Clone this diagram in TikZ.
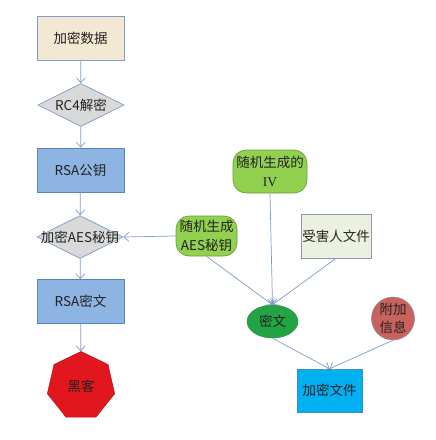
\documentclass[tikz,border=0pt]{standalone}
\usepackage{fontspec}
\setmainfont{Noto Sans CJK SC}
\newfontfamily\ivfont{Liberation Serif}
\usetikzlibrary{shapes.geometric,arrows.meta}
\definecolor{lineblue}{HTML}{7F9DC6}
\definecolor{beige}{HTML}{F3E8D4}
\definecolor{rsablue}{HTML}{8DB4E2}
\definecolor{rsaedge}{HTML}{5A86BC}
\definecolor{dgray}{HTML}{D9D9D9}
\definecolor{lgreen}{HTML}{92D050}
\definecolor{lgreenedge}{HTML}{6B9E3A}
\definecolor{pale}{HTML}{EBF1DE}
\definecolor{paleedge}{HTML}{8A9BAA}
\definecolor{cgreen}{HTML}{22A444}
\definecolor{cgreenedge}{HTML}{3C8C50}
\definecolor{rosered}{HTML}{C9625C}
\definecolor{roseedge}{HTML}{8E8FA5}
\definecolor{cyanbox}{HTML}{00B0F0}
\definecolor{cyanedge}{HTML}{3A8CC4}
\definecolor{hackred}{HTML}{E2161E}
\definecolor{txt}{HTML}{222222}
\begin{document}
\begin{tikzpicture}[x=1pt,y=-1pt,
  every node/.style={font=\fontsize{13.5}{19}\selectfont, text=txt, inner sep=0pt},
  conn/.style={draw=lineblue, line width=0.7pt, -{Straight Barb[length=5pt,width=9pt]}},
  plain/.style={draw=lineblue, line width=0.7pt},
  rbox/.style={rectangle, draw=rsaedge, line width=0.7pt, minimum width=87pt, minimum height=44pt},
  dia/.style={diamond, draw=lineblue, fill=dgray, line width=0.7pt, minimum width=86pt, minimum height=43pt},
  gbox/.style={rectangle, rounded corners=13pt, draw=lgreenedge, fill=lgreen, line width=0.7pt, align=center}
]
\useasboundingbox (0,0) rectangle (436,440);
\fill[white] (0,0) rectangle (436,440);

\node[rbox, fill=beige, draw=lineblue] (data) at (80.5,38.5) {加密数据};
\node[dia] (rc4) at (81,105) {};
\node at (rc4) {RC4解密};
\node[rbox, fill=rsablue] (pub) at (80.5,170) {RSA公钥};
\node[dia] (aes) at (80,237) {};
\node at (aes) {加密AES秘钥};
\node[rbox, fill=rsablue] (rsac) at (80.5,301.5) {RSA密文};
\node[regular polygon, regular polygon sides=7, minimum size=69pt, fill=hackred, draw=hackred!80!black, line width=0.5pt] (hack) at (81,386) {黑客};

\node[gbox, minimum width=61pt, minimum height=40pt] (aesgen) at (206.5,236) {随机生成\\AES秘钥};
\node[gbox, minimum width=74pt, minimum height=43pt] (iv) at (270,171.5) {随机生成的\\{\ivfont IV}};
\node[rectangle, draw=paleedge, fill=pale, line width=0.7pt, minimum width=70pt, minimum height=44pt] (victim) at (336,236) {受害人文件};
\node[ellipse, draw=cgreenedge, fill=cgreen, line width=0.5pt, minimum width=51pt, minimum height=33pt] (cipher) at (272.5,321.5) {密文};
\node[circle, draw=roseedge, fill=rosered, line width=0.6pt, minimum size=43pt, align=center, font=\fontsize{13.5}{18}\selectfont] (extra) at (393,318.5) {附加\\信息};
\node[rectangle, draw=cyanedge, fill=cyanbox, line width=0.5pt, minimum width=65pt, minimum height=43pt] (encf) at (329.5,390.5) {加密文件};

\draw[conn] (data) -- (rc4);
\draw[conn] (rc4) -- (pub);
\draw[conn] (pub) -- (aes);
\draw[conn] (aes) -- (rsac);
\draw[conn] (rsac) -- (hack);
\draw[conn] (aesgen.west) -- (aes.east);
\draw[conn] (aesgen.south) -- (cipher.north);
\draw[conn] (iv.south) -- (cipher.north);
\draw[conn] (victim.south) -- (cipher.north);
\draw[conn] (cipher.south) -- (encf.north);
\draw[conn] (extra.south) -- (encf.north);
\end{tikzpicture}
\end{document}
